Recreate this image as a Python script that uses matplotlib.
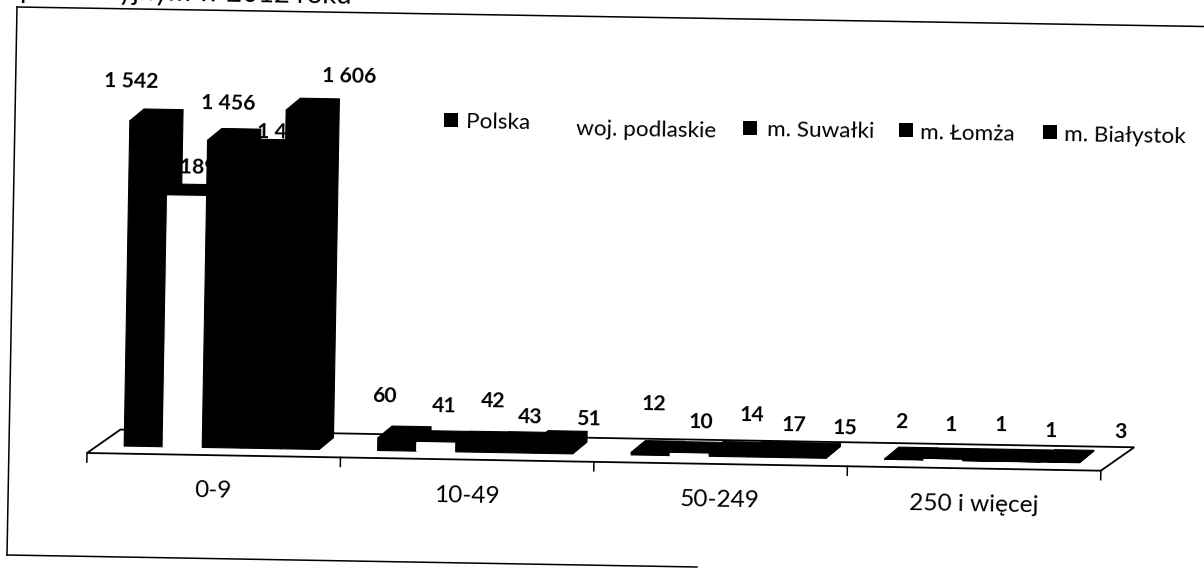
import matplotlib
matplotlib.use('Agg')
import matplotlib.pyplot as plt
from matplotlib.patches import Polygon
from matplotlib.transforms import Affine2D
import numpy as np

categories = ['0-9', '10-49', '50-249', '250 i więcej']
series = ['Polska', 'woj. podlaskie', 'm. Suwałki', 'm. Łomża', 'm. Białystok']
polska = [1542, 60, 12, 2]
podlaskie = [1189, 41, 10, 1]
suwalki = [1456, 42, 14, 1]
lomza = [1408, 43, 17, 1]
bialystok = [1606, 51, 15, 3]
values = [polska, podlaskie, suwalki, lomza, bialystok]
front_colors = ['black', 'white', 'black', 'black', 'black']

# label offsets from the top of each bar, in pixels (one row per series)
label_dx = [[-18, -13, 3, -3], [2, 8, 11, 8], [1, 18, 23, 19], [18, 16, 26, 30], [44, 35, 38, 60]]
label_dy = [[40, 42, 48, 37], [29, 37, 32, 35], [37, 42, 38, 36], [19, 27, 28, 30], [34, 24, 27, 30]]

W, H = 1204, 568
PX_PER_UNIT = 0.211
BASE = 36          # floor front edge sits this far below value 0
BAR_W = 39 / 253.3
FIRST = 37 / 253.3
DEPTH_BAR = (14, 12)
DEPTH_FLOOR = (33, 24)
TILT = -1.0

plt.rcParams['font.family'] = ['Lato', 'DejaVu Sans']

fig = plt.figure(figsize=(W / 100, H / 100), dpi=100, facecolor='white')

# whole page in image pixels, for the scanned frame, title and legend
page = fig.add_axes([0, 0, 1, 1])
page.set_xlim(0, W)
page.set_ylim(H, 0)
page.axis('off')

page.plot([17, 7], [7, 555], color='black', lw=1.1)
page.plot([17, 1204], [7, 26.5], color='black', lw=1.1)
page.plot([7, 697], [555, 567], color='black', lw=1.1)
page.text(20, -2, 'produkcyjnym w 2012 roku', fontsize=19.7, rotation=TILT,
          rotation_mode='anchor', va='baseline', ha='left', clip_on=True)

# legend
legend_sq = [(451, 120), (750, 128), (906, 130), (1050, 132)]
legend_txt = [(466, 122), (576, 129), (767, 130), (920, 133), (1064, 135)]
for x, y in legend_sq:
    page.scatter([x], [y], marker='s', s=95, color='black', linewidths=0)
for name, (x, y) in zip(series, legend_txt):
    page.text(x, y, name, fontsize=16.2, va='center', ha='left', rotation=TILT,
              rotation_mode='anchor')

# chart axes, unrotated; the whole thing is turned by TILT around the floor corner
ax_h = 420
ax = fig.add_axes([87 / W, (H - 453) / H, 1014 / W, ax_h / H])
ax.set_xlim(0, 4)
ax.set_ylim(-BASE, -BASE + ax_h / PX_PER_UNIT)
ax.axis('off')
ax.patch.set_alpha(0)

rot = Affine2D().rotate_deg_around(87, H - 453, TILT)
tr = ax.transData + rot

# floor
x0, y0 = ax.transData.transform((0, -BASE))
x1, y1 = ax.transData.transform((4, -BASE))
dx, dy = DEPTH_FLOOR
ax.add_patch(Polygon([(x0, y0), (x1, y1), (x1 + dx, y1 + dy), (x0 + dx, y0 + dy)], closed=True,
                     facecolor='white', edgecolor='black', lw=1.3, transform=rot,
                     clip_on=False, zorder=1))
for g in range(5):
    ax.plot([g, g], [-BASE, -BASE - 9 / PX_PER_UNIT], color='black', lw=1.1, transform=tr,
            clip_on=False, zorder=1)

for g, cat in enumerate(categories):
    ax.text(g + 0.5, -BASE - 36 / PX_PER_UNIT, cat, fontsize=17.6, ha='center', va='center',
            rotation=TILT, rotation_mode='anchor', transform=tr)

# bars, drawn left to right so each one covers the side of the previous one
z = 5
ddx, ddy = DEPTH_BAR
for g in range(4):
    for s in range(5):
        v = values[s][g]
        left = g + FIRST + s * BAR_W
        # top and side faces are black for every series
        (xa, ya), (xb, yb), (xc, yc) = ax.transData.transform([(left, v), (left + BAR_W, v), (left + BAR_W, 0)])
        ax.add_patch(Polygon([(xa, ya), (xa + ddx, ya + ddy), (xb + ddx, yb + ddy), (xb, yb)],
                             closed=True, facecolor='black', edgecolor='black', lw=0.8,
                             transform=rot, clip_on=False, zorder=z))
        ax.add_patch(Polygon([(xb, yb), (xb + ddx, yb + ddy), (xc + ddx, yc + ddy), (xc, yc)],
                             closed=True, facecolor='black', edgecolor='black', lw=0.8,
                             transform=rot, clip_on=False, zorder=z))
        ax.bar(left, v, BAR_W, align='edge', color=front_colors[s], edgecolor=front_colors[s],
               lw=0.8, transform=tr, clip_on=False, zorder=z + 0.5)
        z += 1
        txt = f'{v:,}'.replace(',', ' ')
        ax.annotate(txt, xy=(left + BAR_W / 2, v), xycoords=tr,
                    xytext=(label_dx[s][g], label_dy[s][g]), textcoords='offset pixels',
                    fontsize=15.2, fontweight='bold', ha='center', va='center',
                    rotation=TILT, rotation_mode='anchor', zorder=2, annotation_clip=False)

ax.set_xlim(0, 4)
ax.set_ylim(-BASE, -BASE + ax_h / PX_PER_UNIT)

fig.savefig('out.png', dpi=100, facecolor='white')
